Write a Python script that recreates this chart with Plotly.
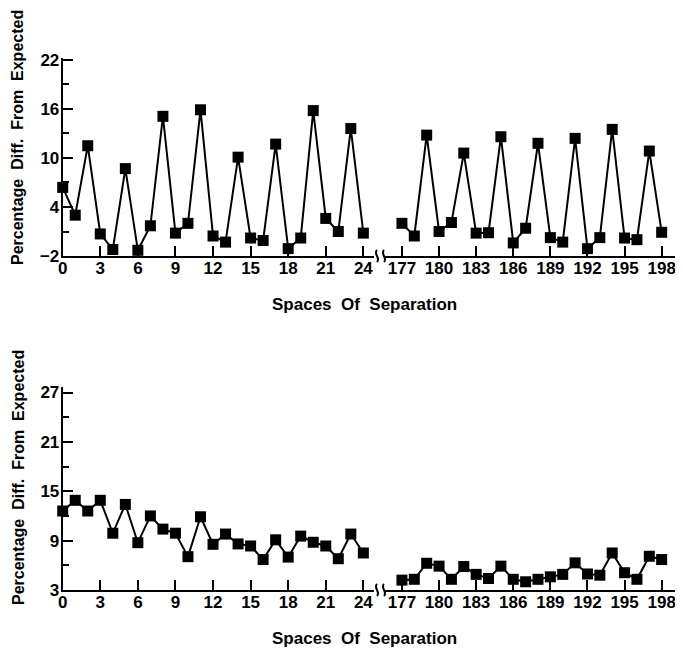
import plotly.graph_objects as go

# ---------------- data ----------------
x_left = list(range(0, 25))
x_right = list(range(177, 199))

top_left = [6.4, 3.0, 11.5, 0.7, -1.2, 8.7, -1.3, 1.7, 15.1, 0.8, 2.0, 15.9, 0.45,
            -0.3, 10.1, 0.2, -0.1, 11.7, -1.1, 0.2, 15.8, 2.6, 1.0, 13.6, 0.8]
top_right = [2.0, 0.45, 12.8, 1.0, 2.1, 10.6, 0.8, 0.85, 12.6, -0.4, 1.4, 11.8,
             0.25, -0.3, 12.4, -1.1, 0.25, 13.5, 0.2, 0.0, 10.85, 0.9]

bot_left = [12.6, 13.9, 12.6, 13.9, 9.9, 13.4, 8.75, 12.0, 10.4, 9.9, 7.05, 11.9,
            8.55, 9.8, 8.6, 8.35, 6.7, 9.1, 7.0, 9.55, 8.8, 8.35, 6.8, 9.8, 7.5]
bot_right = [4.2, 4.3, 6.25, 5.9, 4.3, 5.85, 4.9, 4.4, 5.9, 4.3, 4.0, 4.3, 4.6,
             4.9, 6.3, 4.95, 4.8, 7.5, 5.1, 4.3, 7.1, 6.7]

xticks_left = list(range(0, 25, 3))
xticks_right = list(range(177, 199, 3))
yticks_top = [-2, 4, 10, 16, 22]
yticks_bot = [3, 9, 15, 21, 27]

x_title = "Spaces\u00a0\u00a0Of\u00a0\u00a0Separation"
y_title = "Percentage\u00a0\u00a0Diff.\u00a0\u00a0From\u00a0\u00a0Expected"

# page is rendered with an 8px body margin; figure sized to fill the rest
OFF = 8
W, H = 683 - OFF, 649 - OFF
TICKFONT = dict(family="Liberation Sans", size=17, color="black", weight="bold")
XTITLEFONT = dict(family="Liberation Sans", size=17, color="black", weight="bold")
YTITLEFONT = dict(family="Liberation Sans", size=16, color="black", weight="bold")

def px(x):
    return (x - OFF) / W

def py(y):
    return 1 - (y - OFF) / H

fig = go.Figure()

line = dict(color="black", width=2)
marker = dict(symbol="square", size=11, color="black")

for xs, ys, xa, ya in [(x_left, top_left, "x", "y"), (x_right, top_right, "x2", "y"),
                       (x_left, bot_left, "x3", "y2"), (x_right, bot_right, "x4", "y2")]:
    fig.add_trace(go.Scatter(x=xs, y=ys, xaxis=xa, yaxis=ya, mode="lines+markers",
                             line=line, marker=marker, cliponaxis=False,
                             showlegend=False, hoverinfo="x+y"))

dom_l = [px(62.7), px(374)]
dom_r = [px(385), px(678)]

common = dict(showline=True, linecolor="black", linewidth=2, ticks="inside",
              ticklen=10, tickwidth=2, tickcolor="black", showgrid=False,
              zeroline=False, tickfont=TICKFONT, automargin=False, fixedrange=True,
              ticklabeloverflow="allow")
xcommon = dict(ticklabelstandoff=-4, **common)
ycommon = dict(ticklabelstandoff=-2, **common)

fig.update_layout(
    width=W, height=H,
    margin=dict(l=0, r=0, t=0, b=0),
    paper_bgcolor="white", plot_bgcolor="white",
    xaxis=dict(domain=dom_l, range=[0, 24.85], anchor="y", tickvals=xticks_left, **xcommon),
    xaxis2=dict(domain=dom_r, range=[175.63, 199.32], anchor="y", tickvals=xticks_right, **xcommon),
    xaxis3=dict(domain=dom_l, range=[0, 24.85], anchor="y2", tickvals=xticks_left, **xcommon),
    xaxis4=dict(domain=dom_r, range=[175.63, 199.32], anchor="y2", tickvals=xticks_right, **xcommon),
    yaxis=dict(domain=[py(256), py(58)], range=[-2, 22.24], anchor="x", tickvals=yticks_top,
               minor=dict(ticks="inside", ticklen=6, tickwidth=2, tickcolor="black",
                          tickvals=[1, 7, 13, 19]), **ycommon),
    yaxis2=dict(domain=[py(590), py(387)], range=[3, 27.67], anchor="x3", tickvals=yticks_bot,
                minor=dict(ticks="inside", ticklen=6, tickwidth=2, tickcolor="black",
                           tickvals=[6, 12, 18, 24]), **ycommon),
)

# axis titles
for yc in [138, 478]:
    fig.add_annotation(text=y_title, x=px(18), y=py(yc),
                       xref="paper", yref="paper", textangle=-90, showarrow=False,
                       font=YTITLEFONT, xanchor="center", yanchor="middle")
for yc in [305, 638]:
    fig.add_annotation(text=x_title, x=px(364), y=py(yc),
                       xref="paper", yref="paper", showarrow=False,
                       font=XTITLEFONT, xanchor="center", yanchor="middle")

# axis-break squiggles
def squiggle(xc, yc):
    x0 = px(xc)
    ya, yb = py(yc + 6), py(yc - 6)
    d = 4 / W
    return f"M {x0},{ya} C {x0 + d},{py(yc + 2)} {x0 - d},{py(yc - 2)} {x0},{yb}"

for yaxis_px in [256, 590]:
    for xc in [377, 384]:
        fig.add_shape(type="path", path=squiggle(xc, yaxis_px), xref="paper", yref="paper",
                      line=dict(color="black", width=2))

fig.write_html("out.html")
